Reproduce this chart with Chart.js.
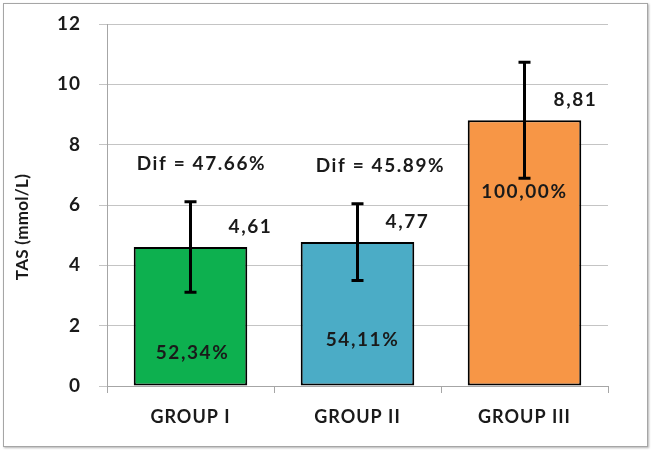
<!DOCTYPE html>
<html><head><meta charset="utf-8">
<script src="https://cdn.jsdelivr.net/npm/chart.js@4.4.1/dist/chart.umd.min.js"></script>
<style>
html,body{margin:0;padding:0;background:#fff;}
#wrap{position:relative;width:655px;height:453px;}
#frame{position:absolute;left:3px;top:3px;width:643px;height:442px;border:1px solid #a6a6a6;box-shadow:1px 1px 2px rgba(0,0,0,0.3);pointer-events:none;}
canvas{position:absolute;left:0;top:0;}
</style></head><body>
<div id="wrap"><canvas id="c" width="655" height="453"></canvas><div id="frame"></div></div>
<script>
const categories = ['GROUP I', 'GROUP II', 'GROUP III'];
const tasMeans = [4.61, 4.77, 8.81];
const tasErrors = [1.50, 1.27, 1.92];
const valueLabels = ['4,61', '4,77', '8,81'];
const percentLabels = ['52,34%', '54,11%', '100,00%'];
const difLabels = ['Dif = 47.66%', 'Dif = 45.89%', ''];
const yTicks = [0, 2, 4, 6, 8, 10, 12];
const barColors = ['#0DB04F', '#4BACC6', '#F79646'];

const FONT = 'Lato, "Open Sans", sans-serif';
const TXT = '#1a1a1a';

const spacing = {
  id: 'spacing',
  beforeDraw(chart) { chart.ctx.letterSpacing = '1px'; }
};

const overlay = {
  id: 'overlay',
  afterDatasetsDraw(chart, args, opts) {
    const ctx = chart.ctx, y = chart.scales.y;
    const meta = chart.getDatasetMeta(0);
    ctx.save();
    meta.data.forEach((bar, i) => {
      const cx = bar.x;
      const yt = y.getPixelForValue(tasMeans[i] + tasErrors[i]);
      const yb = y.getPixelForValue(tasMeans[i] - tasErrors[i]);
      ctx.strokeStyle = '#000';
      ctx.lineWidth = 3;
      ctx.beginPath();
      ctx.moveTo(cx, yt); ctx.lineTo(cx, yb);
      ctx.moveTo(cx - 6, yt); ctx.lineTo(cx + 6, yt);
      ctx.moveTo(cx - 6, yb); ctx.lineTo(cx + 6, yb);
      ctx.stroke();

      ctx.fillStyle = TXT;
      ctx.textAlign = 'center';
      ctx.textBaseline = 'middle';
      ctx.letterSpacing = '1.6px';
      ctx.font = 'bold 19px ' + FONT;
      const top = y.getPixelForValue(tasMeans[i]);
      ctx.fillText(valueLabels[i], cx + opts.valueDx[i], top - 20);
      if (difLabels[i]) ctx.fillText(difLabels[i], cx + opts.difDx[i], yt - 38);
      ctx.fillText(percentLabels[i], cx + opts.pctDx[i], y.getPixelForValue(opts.pctAt[i]));
    });
    // y axis title
    ctx.save();
    ctx.translate(23, 227);
    ctx.rotate(-Math.PI / 2);
    ctx.letterSpacing = '0.3px';
    ctx.font = 'bold 17px ' + FONT;
    ctx.fillText('TAS (mmol/L)', 0, 0);
    ctx.restore();
    ctx.restore();
  }
};

new Chart(document.getElementById('c'), {
  type: 'bar',
  data: {
    labels: categories,
    datasets: [{
      data: tasMeans,
      backgroundColor: barColors,
      borderColor: '#000',
      borderWidth: 2,
      borderSkipped: false,
      categoryPercentage: 1,
      barPercentage: 0.68
    }]
  },
  options: {
    responsive: false,
    animation: false,
    devicePixelRatio: 1,
    layout: { padding: { left: 0, right: 47, top: 24, bottom: 0 } },
    plugins: {
      legend: { display: false },
      tooltip: { enabled: false },
      overlay: {
        valueDx: [60, 50, 51],
        difDx: [11, 23, 0],
        pctDx: [2, 5, 0],
        pctAt: [1.09, 1.52, 6.43]
      }
    },
    scales: {
      x: {
        grid: { display: true, drawOnChartArea: false, drawTicks: true, tickLength: 7, color: '#a6a6a6', offset: true },
        border: { color: '#a6a6a6', width: 1 },
        ticks: { font: { family: FONT, size: 18, weight: 'bold' }, color: TXT, padding: 13 },
        afterFit(s) { s.height = 453 - 386; s.paddingLeft = 0; s.paddingRight = 0; }
      },
      y: {
        min: 0, max: 12,
        afterBuildTicks(s) { s.ticks = yTicks.map(v => ({ value: v })); },
        ticks: { font: { family: FONT, size: 19, weight: 'bold' }, color: TXT, padding: 18 },
        grid: { color: '#c4c4c4', tickLength: 8, lineWidth: 1 },
        border: { color: '#a6a6a6', width: 1 },
        afterFit(s) { s.width = 107; s.paddingTop = 0; s.paddingBottom = 0; }
      }
    }
  },
  plugins: [spacing, overlay]
});
</script>
</body></html>
